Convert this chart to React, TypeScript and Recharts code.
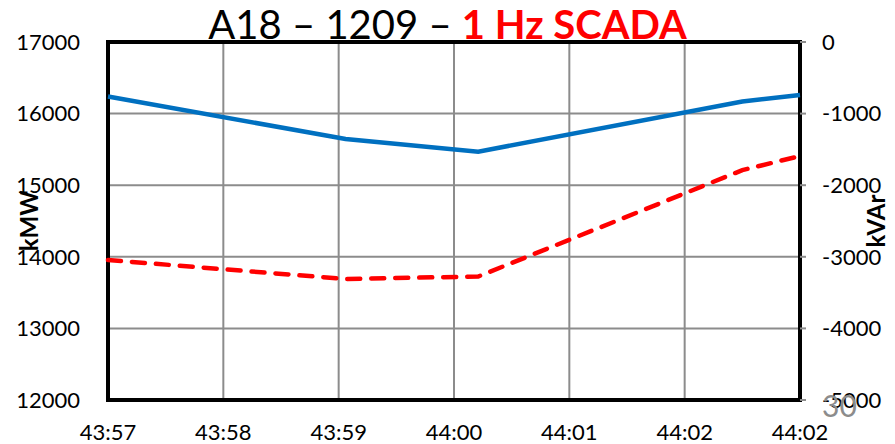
import React from 'react';
import { LineChart, Line, XAxis, YAxis, CartesianGrid, ReferenceArea } from 'recharts';

// minutes from 43:57
const times = [0, 2.06, 3.21, 5.5, 6];
const kmwValues = [16240, 15645, 15468, 16170, 16260];
const kvarValues = [-3045, -3310, -3275, -1790, -1592];

const tickLabels = ['43:57', '43:58', '43:59', '44:00', '44:01', '44:02', '44:02'];
const xTicks = [0, 1, 2, 3, 4, 5, 6];
const leftTicks = [12000, 13000, 14000, 15000, 16000, 17000];
const rightTicks = [-5000, -4000, -3000, -2000, -1000, 0];

const data = times.map((t, i) => ({ t, kmw: kmwValues[i], kvar: kvarValues[i] }));

const FONT = 'Lato, "Open Sans", sans-serif';
const gridColor = '#8c8c8c';

const AxisName = ({ viewBox, text, dx }: any) => {
  if (!viewBox) return null;
  const x = viewBox.x + dx;
  const y = viewBox.y + viewBox.height / 2;
  return (
    <text
      x={x}
      y={y}
      transform={`rotate(-90 ${x} ${y})`}
      textAnchor="middle"
      dominantBaseline="central"
      fontFamily={FONT}
      fontWeight="bold"
      fontSize={24}
      fill="#000"
    >
      {text}
    </text>
  );
};

export default function App() {
  return (
    <div style={{ position: 'absolute', left: 0, top: 0, width: 895, height: 444, background: '#fff', fontFamily: FONT }}>
      <LineChart width={895} height={444} data={data} margin={{ top: 42, right: 0, left: 0, bottom: 0 }}>
        <CartesianGrid yAxisId="left" stroke={gridColor} strokeWidth={2} />
        <XAxis
          dataKey="t"
          type="number"
          domain={[0, 6]}
          ticks={xTicks}
          tickFormatter={(v: number) => tickLabels[v]}
          axisLine={false}
          tickLine={false}
          tickSize={0}
          tickMargin={24}
          height={44}
          tick={{ fontSize: 22, fill: '#000', fontFamily: FONT }}
          interval={0}
        />
        <YAxis
          yAxisId="left"
          domain={[12000, 17000]}
          ticks={leftTicks}
          axisLine={false}
          tickLine={false}
          tickSize={0}
          tickMargin={28}
          width={108}
          tick={{ fontSize: 22, fill: '#000', fontFamily: FONT }}
          interval={0}
          label={<AxisName text="kMW" dx={28} />}
        />
        <YAxis
          yAxisId="right"
          orientation="right"
          domain={[-5000, 0]}
          ticks={rightTicks}
          axisLine={false}
          tickLine={{ stroke: gridColor, strokeWidth: 2 }}
          tickSize={6}
          tickMargin={16}
          width={95}
          tick={{ fontSize: 22, fill: '#000', fontFamily: FONT, textAnchor: 'start' }}
          interval={0}
          label={<AxisName text="kVAr" dx={75} />}
        />
        <ReferenceArea
          yAxisId="left"
          x1={0}
          x2={6}
          y1={12000}
          y2={17000}
          fill="none"
          fillOpacity={0}
          stroke="#000"
          strokeOpacity={1}
          strokeWidth={4}
          ifOverflow="visible"
        />
        <Line
          yAxisId="left"
          dataKey="kmw"
          type="linear"
          stroke="#0070c0"
          strokeWidth={4.5}
          dot={false}
          isAnimationActive={false}
        />
        <Line
          yAxisId="right"
          dataKey="kvar"
          type="linear"
          stroke="#ff0000"
          strokeWidth={4.5}
          strokeDasharray="13 11"
          strokeLinecap="round"
          dot={false}
          isAnimationActive={false}
        />
      </LineChart>
      <div
        style={{
          position: 'absolute',
          left: 0,
          width: 895,
          top: 2,
          textAlign: 'center',
          fontSize: 40,
          lineHeight: '44px',
          color: '#000',
          whiteSpace: 'nowrap',
          pointerEvents: 'none',
        }}
      >
        A18 – 1209 – <span style={{ color: '#ff0000', fontWeight: 'bold' }}>1 Hz SCADA</span>
      </div>
      <div
        style={{
          position: 'absolute',
          left: 822,
          top: 388,
          fontSize: 30,
          lineHeight: '34px',
          color: '#8c8c8c',
          pointerEvents: 'none',
        }}
      >
        30
      </div>
    </div>
  );
}
